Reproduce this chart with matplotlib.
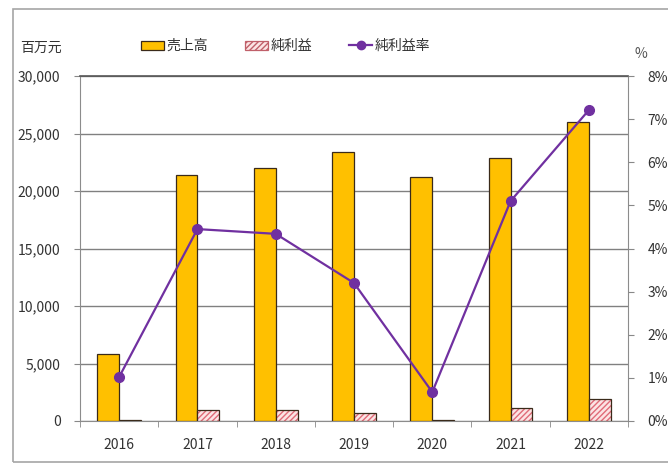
import numpy as np
from matplotlib import pyplot as plt
from matplotlib.patches import Rectangle
from matplotlib.lines import Line2D
from matplotlib.ticker import FuncFormatter, MultipleLocator

plt.rcParams['font.family'] = ['Noto Sans CJK JP', 'DejaVu Sans']

years = ['2016', '2017', '2018', '2019', '2020', '2021', '2022']
sales = [5800, 21400, 22000, 23400, 21200, 22900, 26000]          # 売上高 (百万元)
net_profit = [60, 950, 950, 700, 60, 1130, 1900]                 # 純利益 (百万元)
margin = [1.02, 4.45, 4.34, 3.20, 0.67, 5.10, 7.21]              # 純利益率 (%)

W, H = 668, 466
fig = plt.figure(figsize=(W / 100, H / 100), dpi=100)

# outer frame
fig.patches.append(Rectangle((13 / W, 1 - 462 / H), 700 / W, 453 / H,
                             transform=fig.transFigure, fill=False,
                             edgecolor='#a6a6a6', linewidth=1.2))

ax = fig.add_axes([80 / W, 1 - 421 / H, 548 / W, 345 / H])
x = np.arange(len(years))
bw = 0.28

ax.bar(x - bw / 2, sales, bw, color='#ffc000', edgecolor='#3a2a1a', linewidth=0.9, zorder=3)
# hatched net profit bars: hatch layer then outline
ax.bar(x + bw / 2, net_profit, bw, color='#fce4e4', edgecolor='#e06b78', hatch='//////',
       linewidth=0, zorder=3)
ax.bar(x + bw / 2, net_profit, bw, fill=False, edgecolor='#3a2a1a', linewidth=0.9, zorder=4)

ax.set_xlim(-0.5, len(years) - 0.5)
ax.set_ylim(0, 30000)
ax.yaxis.set_major_locator(MultipleLocator(5000))
ax.yaxis.set_major_formatter(FuncFormatter(lambda v, p: f'{int(v):,}'))
ax.grid(axis='y', color='#808080', linewidth=1.0, zorder=0)
ax.set_xticks(x)
ax.set_xticklabels(years)
ax.set_xticks(np.arange(-0.5, len(years)), minor=True)
ax.tick_params(axis='x', which='major', length=0, pad=12, labelsize=10, colors='#333333')
ax.tick_params(axis='x', which='minor', length=4, color='#888888')
ax.tick_params(axis='y', length=4, color='#888888', labelsize=10, labelcolor='#333333', pad=10)

for s in ['left', 'right', 'bottom']:
    ax.spines[s].set_color('#8c8c8c')
ax.spines['top'].set_color('#555555')
ax.spines['top'].set_linewidth(1.2)

ax2 = ax.twinx()
ax2.plot(x, margin, color='#7030a0', linewidth=1.6, marker='o', markersize=7, zorder=5)
ax2.set_ylim(0, 8)
ax2.yaxis.set_major_locator(MultipleLocator(1))
ax2.yaxis.set_major_formatter(FuncFormatter(lambda v, p: f'{int(v)}%'))
ax2.tick_params(axis='y', length=4, color='#888888', labelsize=10, labelcolor='#333333', pad=10)
for s in ['left', 'right', 'bottom', 'top']:
    ax2.spines[s].set_visible(False)

# legend
handles = [Rectangle((0, 0), 1, 1, facecolor='#ffc000', edgecolor='#3a2a1a', linewidth=0.9),
           Rectangle((0, 0), 1, 1, facecolor='#fce4e4', edgecolor='#c0606a', hatch='//////', linewidth=0.9),
           Line2D([0], [0], color='#7030a0', linewidth=1.6, marker='o', markersize=6)]
fig.legend(handles, ['売上高', '純利益', '純利益率'], ncol=3, frameon=False,
           loc='center left', bbox_to_anchor=(128 / W, 1 - 46 / H),
           handlelength=1.7, handleheight=0.6, handletextpad=0.2, columnspacing=2.6,
           fontsize=10, labelcolor='#333333')

fig.text(41 / W, 1 - 48 / H, '百万元', ha='center', va='center', fontsize=10, color='#333333')
fig.text(641 / W, 1 - 54 / H, '%', ha='center', va='center', fontsize=10, color='#555555')

fig.savefig('out.png', dpi=100)
